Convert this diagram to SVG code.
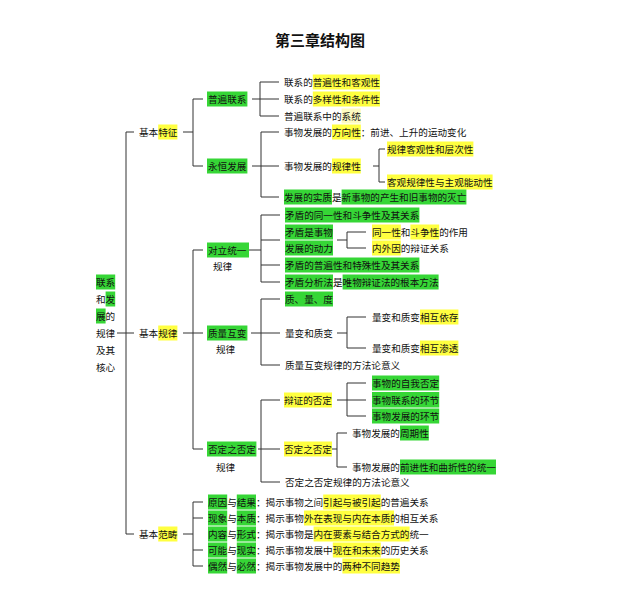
<svg xmlns="http://www.w3.org/2000/svg" width="640" height="616" viewBox="0 0 640 616">
<style>
text{font-family:"Noto Sans CJK SC","Noto Sans",sans-serif;font-size:9.6px;fill:#111;dominant-baseline:central}
.title{font-size:15px;font-weight:bold;fill:#111}
.g{fill:#36d636}
.y{fill:#ffff40}
.fy{fill:#fdfbc0}
.c{fill:none;stroke:#333;stroke-width:1}
</style>
<rect width="640" height="616" fill="#fff"/>
<text class="title" x="320" y="39" text-anchor="middle">第三章结构图</text>

<g id="connectors">
<path class="c" d="M117 333H134"/>
<path class="c" d="M134 132H126V534H134"/>
<path class="c" d="M183 132H193M203 99H193V166H203"/>
<path class="c" d="M252 99H279M279 82H260V116H279"/>
<path class="c" d="M252 166H279M279 132H261V197H279"/>
<path class="c" d="M373 166H379M385 149H379V182H385"/>
<path class="c" d="M183 333H203M203 250H193V449H203"/>
<path class="c" d="M249 250H261M280 215H261V282H280M261 240H280M261 265H280"/>
<path class="c" d="M337 240H347M366 232H347V248H366"/>
<path class="c" d="M251 333H280M280 299H261V365H280"/>
<path class="c" d="M337 333H347M366 317H347V348H366"/>
<path class="c" d="M258 449H280M280 400H261V482H280"/>
<path class="c" d="M337 400H366M366 383H347V416H366"/>
<path class="c" d="M332 449H337M347 433H337V467H347"/>
<path class="c" d="M183 534H193M203 502H193V566H203M193 518H203M193 550H203"/>
</g>

<g id="root">
<rect class="g" x="96" y="274.5" width="19.2" height="15"/>
<rect class="g" x="105.6" y="291.5" width="9.6" height="15"/>
<rect class="g" x="96" y="308.5" width="9.6" height="15"/>
<text x="96" y="282">联系</text>
<text x="96" y="299">和发</text>
<text x="96" y="316">展的</text>
<text x="96" y="333">规律</text>
<text x="96" y="350">及其</text>
<text x="96" y="367">核心</text>
</g>

<g id="n-jbtz">
<rect class="y" x="158.2" y="124.5" width="19.2" height="15"/>
<text x="139" y="132">基本特征</text>
</g>
<g id="n-pblx">
<rect class="g" x="207" y="91.5" width="40.4" height="15"/>
<text x="208" y="99">普遍联系</text>
</g>
<g id="n-pblx-1">
<rect class="y" x="312.8" y="74.5" width="67.2" height="15"/>
<text x="284" y="82">联系的普遍性和客观性</text>
</g>
<g id="n-pblx-2">
<rect class="y" x="312.8" y="91.5" width="67.2" height="15"/>
<text x="284" y="99">联系的多样性和条件性</text>
</g>
<g id="n-pblx-3">
<rect class="fy" x="341.6" y="108.5" width="19.2" height="15"/>
<text x="284" y="116">普遍联系中的系统</text>
</g>
<g id="n-yhfz">
<rect class="g" x="207" y="158.5" width="40.4" height="15"/>
<text x="208" y="166">永恒发展</text>
</g>
<g id="n-yhfz-1">
<rect class="y" x="332" y="124.5" width="28.8" height="15"/>
<text x="284" y="132">事物发展的方向性：前进、上升的运动变化</text>
</g>
<g id="n-yhfz-2">
<rect class="y" x="332" y="158.5" width="28.8" height="15"/>
<text x="284" y="166">事物发展的规律性</text>
</g>
<g id="n-gl-1">
<rect class="y" x="387" y="141.5" width="86.4" height="15"/>
<text x="387" y="149">规律客观性和层次性</text>
</g>
<g id="n-gl-2">
<rect class="y" x="387" y="174.5" width="105.6" height="15"/>
<text x="387" y="182">客观规律性与主观能动性</text>
</g>
<g id="n-yhfz-3">
<rect class="g" x="284" y="189.5" width="48" height="15"/>
<rect class="g" x="341.6" y="189.5" width="124.8" height="15"/>
<text x="284" y="197">发展的实质是新事物的产生和旧事物的灭亡</text>
</g>

<g id="n-jbgl">
<rect class="y" x="158.2" y="325.5" width="19.2" height="15"/>
<text x="139" y="333">基本规律</text>
</g>
<g id="n-dlty">
<rect class="g" x="207" y="242.5" width="42" height="15"/>
<text x="208" y="250">对立统一</text>
<text x="213" y="266">规律</text>
</g>
<g id="n-dlty-1">
<rect class="g" x="285" y="207.5" width="134.4" height="15"/>
<text x="285" y="215">矛盾的同一性和斗争性及其关系</text>
</g>
<g id="n-dlty-2">
<rect class="g" x="285" y="224.5" width="48" height="15"/>
<rect class="g" x="285" y="240.5" width="48" height="15"/>
<text x="285" y="232">矛盾是事物</text>
<text x="285" y="248">发展的动力</text>
</g>
<g id="n-dl-a">
<rect class="y" x="372" y="224.5" width="28.8" height="15"/>
<rect class="y" x="410.4" y="224.5" width="28.8" height="15"/>
<text x="372" y="232">同一性和斗争性的作用</text>
</g>
<g id="n-dl-b">
<rect class="y" x="372" y="240.5" width="28.8" height="15"/>
<text x="372" y="248">内外因的辩证关系</text>
</g>
<g id="n-dlty-3">
<rect class="g" x="285" y="257.5" width="134.4" height="15"/>
<text x="285" y="265">矛盾的普遍性和特殊性及其关系</text>
</g>
<g id="n-dlty-4">
<rect class="g" x="285" y="274.5" width="48" height="15"/>
<rect class="g" x="342.6" y="274.5" width="96" height="15"/>
<text x="285" y="282">矛盾分析法是唯物辩证法的根本方法</text>
</g>

<g id="n-zlhb">
<rect class="g" x="207" y="325.5" width="40.4" height="15"/>
<text x="208" y="333">质量互变</text>
<text x="216" y="349">规律</text>
</g>
<g id="n-zlhb-1">
<rect class="g" x="285" y="291.5" width="48" height="15"/>
<text x="285" y="299">质、量、度</text>
</g>
<g id="n-zlhb-2">
<text x="285" y="333">量变和质变</text>
</g>
<g id="n-lb-a">
<rect class="y" x="420" y="309.5" width="38.4" height="15"/>
<text x="372" y="317">量变和质变相互依存</text>
</g>
<g id="n-lb-b">
<rect class="y" x="420" y="340.5" width="38.4" height="15"/>
<text x="372" y="348">量变和质变相互渗透</text>
</g>
<g id="n-zlhb-3">
<text x="285" y="365">质量互变规律的方法论意义</text>
</g>

<g id="n-fdzfd">
<rect class="g" x="207" y="441.5" width="49.4" height="15"/>
<text x="208" y="449">否定之否定</text>
<text x="216" y="467">规律</text>
</g>
<g id="n-bzdfd">
<rect class="y" x="284" y="392.5" width="48" height="15"/>
<text x="284" y="400">辩证的否定</text>
</g>
<g id="n-bz-1">
<rect class="g" x="372" y="375.5" width="67.2" height="15"/>
<text x="372" y="383">事物的自我否定</text>
</g>
<g id="n-bz-2">
<rect class="g" x="372" y="392" width="67.2" height="15.5"/>
<text x="372" y="400">事物联系的环节</text>
</g>
<g id="n-bz-3">
<rect class="g" x="372" y="408.5" width="67.2" height="15"/>
<text x="372" y="416">事物发展的环节</text>
</g>
<g id="n-fdzfd-2">
<rect class="y" x="284" y="441.5" width="48" height="15"/>
<text x="284" y="449">否定之否定</text>
</g>
<g id="n-fd-a">
<rect class="g" x="400" y="425.5" width="28.8" height="15"/>
<text x="352" y="433">事物发展的周期性</text>
</g>
<g id="n-fd-b">
<rect class="g" x="400" y="459.5" width="96" height="15"/>
<text x="352" y="467">事物发展的前进性和曲折性的统一</text>
</g>
<g id="n-fdzfd-3">
<text x="285" y="482">否定之否定规律的方法论意义</text>
</g>

<g id="n-jbfc">
<rect class="y" x="158.2" y="526.5" width="19.2" height="15"/>
<text x="139" y="534">基本范畴</text>
</g>
<g id="n-fc-1">
<rect class="g" x="208" y="494.5" width="19.2" height="15"/>
<rect class="g" x="236.8" y="494.5" width="19.2" height="15"/>
<rect class="y" x="323.2" y="494.5" width="57.6" height="15"/>
<text x="208" y="502">原因与结果：揭示事物之间引起与被引起的普遍关系</text>
</g>
<g id="n-fc-2">
<rect class="g" x="208" y="510.5" width="19.2" height="15"/>
<rect class="g" x="236.8" y="510.5" width="19.2" height="15"/>
<rect class="y" x="304" y="510.5" width="90" height="15"/>
<text x="208" y="518">现象与本质：揭示事物外在表现与内在本质的相互关系</text>
</g>
<g id="n-fc-3">
<rect class="g" x="208" y="526.5" width="19.2" height="15"/>
<rect class="g" x="236.8" y="526.5" width="19.2" height="15"/>
<rect class="y" x="313.6" y="526.5" width="96" height="15"/>
<text x="208" y="534">内容与形式：揭示事物是内在要素与结合方式的统一</text>
</g>
<g id="n-fc-4">
<rect class="g" x="208" y="542.5" width="19.2" height="15"/>
<rect class="g" x="236.8" y="542.5" width="19.2" height="15"/>
<rect class="y" x="332.8" y="542.5" width="48" height="15"/>
<text x="208" y="550">可能与现实：揭示事物发展中现在和未来的历史关系</text>
</g>
<g id="n-fc-5">
<rect class="g" x="208" y="558.5" width="19.2" height="15"/>
<rect class="g" x="236.8" y="558.5" width="19.2" height="15"/>
<rect class="y" x="342.4" y="558.5" width="57.6" height="15"/>
<text x="208" y="566">偶然与必然：揭示事物发展中的两种不同趋势</text>
</g>
</svg>
